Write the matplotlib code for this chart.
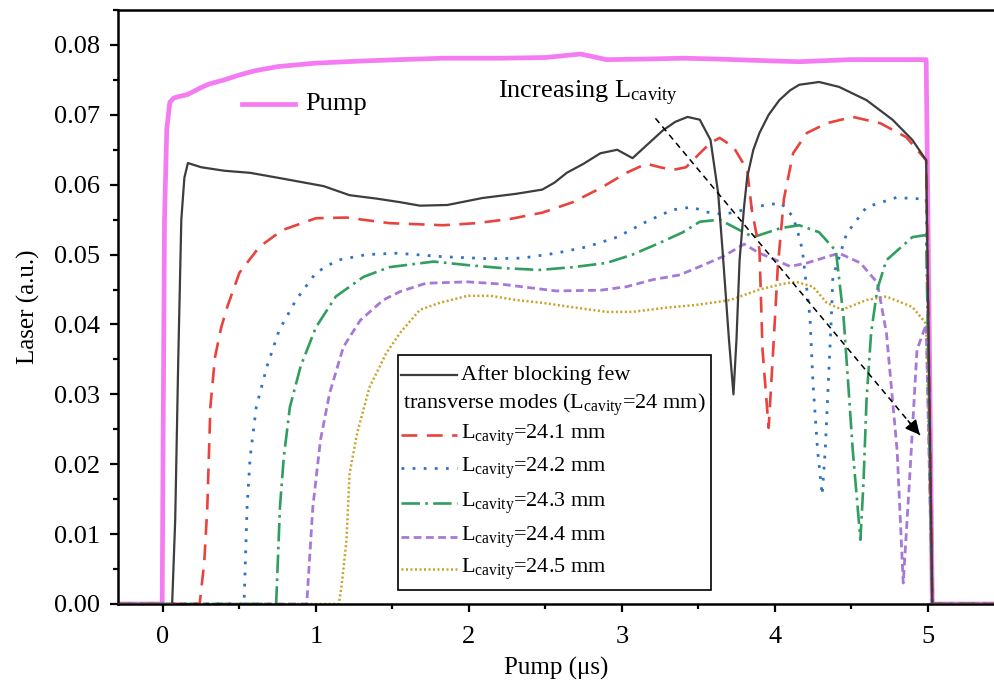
import numpy as np
import matplotlib
matplotlib.use('Agg')
import matplotlib.pyplot as plt
from matplotlib.lines import Line2D
from matplotlib.patches import Rectangle

plt.rcParams['font.family'] = ['Liberation Serif', 'DejaVu Serif']
plt.rcParams['mathtext.fontset'] = 'custom'
plt.rcParams['mathtext.rm'] = 'Liberation Serif'
plt.rcParams['mathtext.it'] = 'Liberation Serif:italic'

# --- data (x in us, y in a.u.) ---
pump_x = [-0.3, -0.005, 0.0, 0.01, 0.025, 0.045, 0.07, 0.1, 0.16, 0.24, 0.3, 0.4, 0.5, 0.6, 0.75, 1.0,
          1.3, 1.55, 1.83, 2.2, 2.5, 2.73, 2.9, 3.2, 3.4, 3.6, 4.0, 4.16, 4.5, 4.99, 5.03, 5.45]
pump_y = [0, 0, 0.02, 0.055, 0.068, 0.0718, 0.0724, 0.0726, 0.0729, 0.0738, 0.0744, 0.075, 0.0757, 0.0763,
          0.0769, 0.0774, 0.0777, 0.0779, 0.0781, 0.0781, 0.0782, 0.0787, 0.0779, 0.078, 0.0781, 0.078, 0.0777,
          0.0776, 0.0779, 0.0779, 0, 0]

black_x = [-0.3, 0.06, 0.08, 0.1, 0.12, 0.14, 0.163, 0.25, 0.4, 0.57, 0.75, 0.9, 1.05, 1.22, 1.4, 1.55, 1.68,
           1.86, 2.09, 2.31, 2.48, 2.56, 2.64, 2.75, 2.86, 2.97, 3.07, 3.2, 3.27, 3.35, 3.43, 3.51, 3.58, 3.63,
           3.66, 3.7, 3.73, 3.75, 3.77, 3.8, 3.82, 3.86, 3.9, 3.96, 4.03, 4.1, 4.16, 4.29, 4.42, 4.6, 4.77, 4.9,
           4.99, 5.03, 5.45]
black_y = [0, 0, 0.012, 0.035, 0.055, 0.061, 0.0631, 0.0625, 0.062, 0.0617, 0.061, 0.0604, 0.0598, 0.0585, 0.058,
           0.0575, 0.057, 0.0571, 0.0581, 0.0587, 0.0593, 0.0603, 0.0617, 0.063, 0.0645, 0.065, 0.0638, 0.0664,
           0.0678, 0.069, 0.0697, 0.0693, 0.0664, 0.0588, 0.0502, 0.038, 0.03, 0.038, 0.0492, 0.057, 0.0611,
           0.065, 0.0674, 0.070, 0.0721, 0.0735, 0.0743, 0.0747, 0.074, 0.0721, 0.0693, 0.0664, 0.0635, 0, 0]

red_x = [-0.3, 0.24, 0.27, 0.29, 0.31, 0.34, 0.38, 0.42, 0.5, 0.63, 0.78, 1.0, 1.2, 1.48, 1.83, 2.05, 2.27,
         2.48, 2.68, 2.86, 3.03, 3.16, 3.25, 3.33, 3.42, 3.51, 3.58, 3.64, 3.73, 3.82, 3.85, 3.9, 3.92, 3.96,
         3.99, 4.02, 4.06, 4.12, 4.21, 4.34, 4.51, 4.69, 4.86, 4.99, 5.03, 5.45]
red_y = [0, 0, 0.006, 0.0139, 0.0282, 0.0353, 0.0395, 0.0425, 0.0474, 0.0511, 0.0535, 0.0552, 0.0553, 0.0545,
         0.0542, 0.0545, 0.0551, 0.056, 0.0575, 0.0595, 0.0617, 0.063, 0.0625, 0.0621, 0.0625, 0.0645, 0.066,
         0.0667, 0.0654, 0.0621, 0.0564, 0.0507, 0.0364, 0.0252, 0.0364, 0.0483, 0.058, 0.0645, 0.0674, 0.0688,
         0.0697, 0.0688, 0.0668, 0.0635, 0, 0]

blue_x = [-0.3, 0.53, 0.55, 0.57, 0.61, 0.68, 0.76, 0.87, 1.0, 1.14, 1.33, 1.53, 1.83, 2.14, 2.35, 2.57, 2.77,
          2.97, 3.16, 3.33, 3.46, 3.55, 3.65, 3.73, 3.86, 4.04, 4.12, 4.16, 4.18, 4.23, 4.25, 4.28, 4.31, 4.33,
          4.35, 4.37, 4.38, 4.47, 4.6, 4.8, 4.9, 4.99, 5.03, 5.45]
blue_y = [0, 0, 0.0139, 0.021, 0.0282, 0.034, 0.0392, 0.0435, 0.0474, 0.0492, 0.05, 0.0502, 0.0497, 0.0494,
          0.0495, 0.0502, 0.0511, 0.0525, 0.0547, 0.0564, 0.0568, 0.0561, 0.0558, 0.056, 0.0568, 0.0574, 0.0554,
          0.0525, 0.0507, 0.0411, 0.0316, 0.022, 0.0156, 0.022, 0.0316, 0.041, 0.0468, 0.053, 0.0568, 0.0582,
          0.058, 0.058, 0, 0]

green_x = [-0.3, 0.74, 0.765, 0.79, 0.83, 0.9, 1.0, 1.13, 1.31, 1.48, 1.77, 1.99, 2.2, 2.46, 2.68, 2.9, 3.07,
           3.25, 3.4, 3.51, 3.64, 3.77, 3.86, 4.04, 4.16, 4.29, 4.38, 4.4, 4.45, 4.48, 4.51, 4.56, 4.58, 4.6,
           4.63, 4.67, 4.73, 4.9, 4.99, 5.03, 5.45]
green_y = [0, 0, 0.0139, 0.021, 0.0282, 0.034, 0.0396, 0.044, 0.0468, 0.0482, 0.049, 0.0485, 0.0481, 0.0478,
           0.0482, 0.0488, 0.05, 0.0517, 0.0532, 0.0547, 0.055, 0.0535, 0.0525, 0.0538, 0.0542, 0.0532, 0.051,
           0.0505, 0.041, 0.0316, 0.022, 0.0092, 0.0173, 0.0292, 0.0388, 0.045, 0.0492, 0.0525, 0.0528, 0, 0]

purple_x = [-0.3, 0.94, 0.98, 1.03, 1.09, 1.18, 1.29, 1.44, 1.55, 1.72, 1.99, 2.2, 2.42, 2.57, 2.86, 3.03,
            3.2, 3.38, 3.49, 3.66, 3.8, 3.9, 4.01, 4.1, 4.21, 4.42, 4.56, 4.67, 4.73, 4.8, 4.84, 4.88, 4.93,
            4.99, 5.03, 5.45]
purple_y = [0, 0, 0.0139, 0.0235, 0.0302, 0.0368, 0.0406, 0.0435, 0.0447, 0.0459, 0.0461, 0.0458, 0.0452,
            0.0448, 0.0449, 0.0454, 0.0464, 0.0471, 0.0481, 0.0497, 0.0515, 0.0502, 0.0492, 0.0483, 0.0488,
            0.0502, 0.0488, 0.046, 0.0388, 0.022, 0.003, 0.0173, 0.0364, 0.040, 0, 0]

gold_x = [-0.3, 1.15, 1.17, 1.2, 1.22, 1.27, 1.35, 1.46, 1.55, 1.68, 1.81, 1.99, 2.14, 2.31, 2.48, 2.7, 2.9,
          3.07, 3.29, 3.49, 3.71, 3.9, 4.05, 4.14, 4.25, 4.34, 4.44, 4.6, 4.73, 4.9, 4.99, 5.03, 5.45]
gold_y = [0, 0, 0.003, 0.0092, 0.0187, 0.0245, 0.031, 0.0359, 0.0388, 0.0421, 0.0431, 0.0441, 0.0441, 0.0435,
          0.0431, 0.0424, 0.0418, 0.0418, 0.0424, 0.0428, 0.0435, 0.045, 0.0458, 0.0461, 0.0454, 0.0431, 0.0421,
          0.0435, 0.044, 0.0425, 0.0401, 0, 0]

arrow_start = (3.22, 0.0695)
arrow_end = (4.96, 0.0239)

# --- styles ---
C_PUMP = '#F57BF2'
STYLES = {
    'black':  dict(color='#3D3D3D', lw=1.6, ls='-'),
    'red':    dict(color='#E8433D', lw=1.9, ls=(0, (6, 3.6))),
    'blue':   dict(color='#3172C2', lw=2.0, ls=(0, (1.0, 3.0))),
    'green':  dict(color='#2F9E5E', lw=1.9, ls=(0, (7, 2, 1, 2))),
    'purple': dict(color='#A679D6', lw=2.0, ls=(0, (2.8, 1.6))),
    'gold':   dict(color='#C9A227', lw=1.8, ls=(0, (0.8, 1.0))),
}

fig = plt.figure(figsize=(9.95, 6.87), dpi=100)
ax = fig.add_axes([118 / 995, 83 / 687, 877 / 995, 594 / 687])

ax.plot(pump_x, pump_y, color=C_PUMP, lw=3.4, zorder=1, solid_joinstyle='round')
ax.plot(gold_x, gold_y, zorder=2, **STYLES['gold'])
ax.plot(purple_x, purple_y, zorder=2, **STYLES['purple'])
ax.plot(green_x, green_y, zorder=2, **STYLES['green'])
ax.plot(blue_x, blue_y, zorder=2, **STYLES['blue'])
ax.plot(red_x, red_y, zorder=2, **STYLES['red'])
ax.plot(black_x, black_y, zorder=3, **STYLES['black'])

# dashed arrow
ax.plot([arrow_start[0], arrow_end[0]], [arrow_start[1], arrow_end[1]],
        color='black', lw=1.1, ls=(0, (4, 3)), zorder=4)
slope = (arrow_start[1] - arrow_end[1]) / (arrow_end[0] - arrow_start[0])
ax.annotate('', xy=arrow_end, xytext=(arrow_end[0] - 0.1, arrow_end[1] + 0.1 * slope),
            arrowprops=dict(arrowstyle='-|>', color='black', lw=1.1, mutation_scale=22), zorder=4)
ax.text(2.19, 0.0724, r'Increasing L$_{\mathrm{cavity}}$', fontsize=19, ha='left', va='baseline')

ax.set_xlim(-0.294, 5.44)
ax.set_ylim(0, 0.085)
ax.set_xticks(np.arange(0, 6, 1))
ax.set_xticks(np.arange(0, 5.5, 0.5), minor=True)
ax.set_yticks(np.arange(0, 0.0801, 0.01))
ax.set_yticks(np.arange(0, 0.0851, 0.005), minor=True)
ax.yaxis.set_major_formatter(matplotlib.ticker.FormatStrFormatter('%.2f'))
ax.tick_params(which='major', direction='out', length=6, width=1.6, labelsize=19)
ax.tick_params(axis='y', which='major', pad=7)
ax.tick_params(axis='x', which='major', pad=10)
ax.tick_params(which='minor', direction='out', length=3.5, width=1.6)
ax.tick_params(top=False, right=False)
for s in ['left', 'bottom', 'top']:
    ax.spines[s].set_linewidth(1.8)
ax.spines['right'].set_visible(False)

ax.set_xlabel('Pump (\u03bcs)', fontsize=18, labelpad=6)
ax.set_ylabel('Laser (a.u.)', fontsize=18, labelpad=10)

# --- Pump key ---
ax.add_line(Line2D([0.1414, 0.2018], [0.8418, 0.8418], transform=ax.transAxes, color=C_PUMP, lw=3.4))
ax.text(0.213, 0.8418, 'Pump', transform=ax.transAxes, fontsize=19, va='center', ha='left')

# --- main legend box, laid out by hand ---
ax.add_patch(Rectangle((0.319, 0.0236), 0.357, 0.395, transform=ax.transAxes,
                       fill=True, facecolor='white', edgecolor='black', lw=1.2, zorder=5))
rows = [0.3855, 0.335, 0.2845, 0.229, 0.170, 0.1128, 0.0589]
keys = ['black', None, 'red', 'blue', 'green', 'purple', 'gold']
labels = ['After blocking few', 'transverse modes (L$_{\\mathrm{cavity}}$=24 mm)',
          'L$_{\\mathrm{cavity}}$=24.1 mm', 'L$_{\\mathrm{cavity}}$=24.2 mm',
          'L$_{\\mathrm{cavity}}$=24.3 mm', 'L$_{\\mathrm{cavity}}$=24.4 mm',
          'L$_{\\mathrm{cavity}}$=24.5 mm']
for yy, k, lab in zip(rows, keys, labels):
    if k is None:
        ax.text(0.3245, yy, lab, transform=ax.transAxes, fontsize=16, va='center', ha='left', zorder=6)
        continue
    ax.add_line(Line2D([0.3225, 0.386], [yy, yy], transform=ax.transAxes, zorder=6, **STYLES[k]))
    ax.text(0.391, yy, lab, transform=ax.transAxes, fontsize=16, va='center', ha='left', zorder=6)

fig.savefig('out.png', dpi=100)
